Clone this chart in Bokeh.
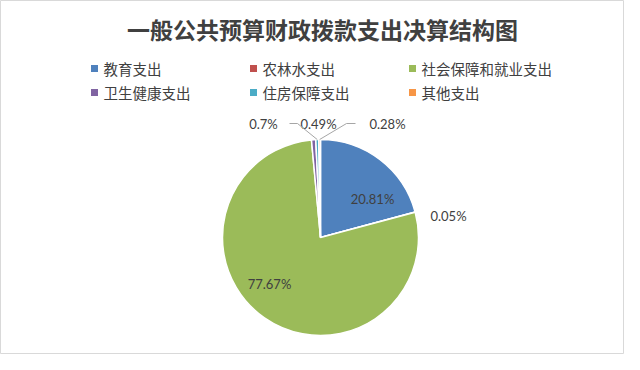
import math
from bokeh.plotting import figure
from bokeh.models import Range1d, ColumnDataSource
from bokeh.core.properties import value
from bokeh.embed import file_html
from bokeh.resources import INLINE

title = "一般公共预算财政拨款支出决算结构图"
categories = ["教育支出", "农林水支出", "社会保障和就业支出", "卫生健康支出", "住房保障支出", "其他支出"]
shares = [20.81, 0.05, 77.67, 0.7, 0.49, 0.28]
colors = ["#4F81BD", "#C0504D", "#9BBB59", "#8064A2", "#4BACC6", "#F79646"]
labels = ["20.81%", "0.05%", "77.67%", "0.7%", "0.49%", "0.28%"]

W, H = 624, 354
p = figure(width=W, height=H, output_backend="svg", toolbar_location=None,
           x_range=Range1d(0, W), y_range=Range1d(370 - H, 370), min_border=0)
p.axis.visible = False
p.grid.visible = False
p.outline_line_color = "#d9d9d9"
p.background_fill_color = "white"
p.border_fill_color = "white"

def Y(ref_y):
    return 370 - ref_y

cx, cy, r = 320, Y(237), 98
total = sum(shares)
starts, ends, mids = [], [], []
cum = 0.0
for s in shares:
    a0 = math.pi / 2 - cum / total * 2 * math.pi
    cum += s
    a1 = math.pi / 2 - cum / total * 2 * math.pi
    starts.append(a1)
    ends.append(a0)
    mids.append((a0 + a1) / 2)

src = ColumnDataSource(dict(start=starts, end=ends, color=colors))
p.wedge(x=cx, y=cy, radius=r, start_angle="start", end_angle="end",
        fill_color="color", line_color="white", line_width=1.5, source=src)

# title
p.text(x=[322], y=[Y(28)], text=[title], text_align="center", text_baseline="middle",
       text_font=value("Noto Sans CJK SC"), text_font_size="23px", text_font_style="bold",
       text_color="#404040")

# legend
leg_x = [94, 253, 412, 94, 253, 412]
leg_y = [Y(68), Y(68), Y(68), Y(92), Y(92), Y(92)]
p.rect(x=leg_x, y=leg_y, width=7, height=7, fill_color=colors, line_color=None)
p.text(x=[v + 9 for v in leg_x], y=leg_y, text=categories, text_baseline="middle",
       text_font=value("Noto Sans CJK SC"), text_font_size="14.5px", text_color="#404040")

# data labels
lab_x = [372, 448, 269, 263, 318, 387]
lab_y = [Y(198), Y(215), Y(283), Y(123), Y(123), Y(123)]
p.text(x=lab_x, y=lab_y, text=labels, text_align="center", text_baseline="middle",
       text_font=value("Lato"), text_font_size="13px", text_color="#404040")

# leader lines for the small slices 0.49% and 0.28%
for idx, (hx0, hx1) in [(4, (289, 297)), (5, (355, 346))]:
    ax = cx + r * math.cos(mids[idx])
    ay = cy + r * math.sin(mids[idx])
    p.line(x=[hx0, hx1, ax], y=[Y(123), Y(123), ay], line_color="#a6a6a6", line_width=1)

open("out.html", "w").write(file_html(p, INLINE))
